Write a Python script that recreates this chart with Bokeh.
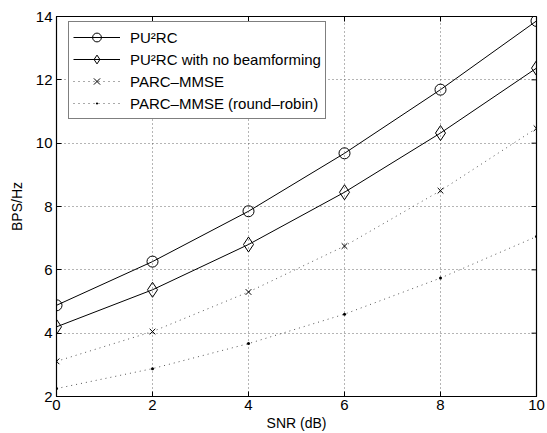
import math
from bokeh.plotting import figure
from bokeh.models import Legend, LegendItem, FixedTicker, Range1d
from bokeh.embed import file_html
from bokeh.resources import INLINE

snr = [0, 2, 4, 6, 8, 10]
pu2rc = [4.88, 6.26, 7.85, 9.68, 11.69, 13.86]
pu2rc_nobf = [4.20, 5.37, 6.80, 8.45, 10.32, 12.37]
parc_mmse = [3.11, 4.05, 5.30, 6.75, 8.50, 10.47]
parc_rr = [2.25, 2.88, 3.67, 4.60, 5.74, 7.05]
xticks = [0, 2, 4, 6, 8, 10]
yticks = [2, 4, 6, 8, 10, 12, 14]

FONT = "Liberation Sans"
XMIN, XMAX, YMIN, YMAX = 0, 10, 2, 14

p = figure(width=547, height=433, output_backend="svg", toolbar_location=None,
           x_range=Range1d(XMIN, XMAX), y_range=Range1d(YMIN, YMAX),
           min_border_left=56, min_border_right=11, min_border_top=16, min_border_bottom=37)
p.outline_line_color = "black"
p.outline_line_width = 1.2
p.background_fill_color = "white"
p.border_fill_color = "white"

for ax in (p.xaxis[0], p.yaxis[0]):
    ax.major_tick_in = 5
    ax.major_tick_out = 0
    ax.minor_tick_in = 0
    ax.minor_tick_out = 0
    ax.axis_line_color = "black"
    ax.major_tick_line_color = "black"
    ax.major_label_text_font = FONT
    ax.major_label_text_font_size = "15px"
    ax.major_label_text_color = "black"
    ax.axis_label_text_font = FONT
    ax.axis_label_text_font_size = "14px"
    ax.axis_label_text_font_style = "normal"
    ax.axis_label_text_color = "black"
p.xaxis[0].ticker = FixedTicker(ticks=xticks)
p.yaxis[0].ticker = FixedTicker(ticks=yticks)
p.xaxis[0].axis_label = "SNR (dB)"
p.yaxis[0].axis_label = "BPS/Hz"
p.xaxis[0].major_label_standoff = 3
p.xaxis[0].axis_label_standoff = 2
p.yaxis[0].major_label_standoff = 4
p.yaxis[0].axis_label_standoff = 8

p.xgrid.ticker = FixedTicker(ticks=xticks)
p.ygrid.ticker = FixedTicker(ticks=yticks)
for g in (p.xgrid[0], p.ygrid[0]):
    g.grid_line_color = "#444444"
    g.grid_line_dash = "1 3"
    g.grid_line_width = 0.8

# inward ticks on the top and right edges (half of each dash is clipped by the frame)
p.scatter([XMAX] * len(yticks), yticks, marker="dash", size=10, line_color="black", line_width=1)
p.scatter(xticks, [YMAX] * len(xticks), marker="dash", size=10, angle=math.pi / 2,
          line_color="black", line_width=1)

l1 = p.line(snr, pu2rc, line_color="black", line_width=1)
m1 = p.scatter(snr, pu2rc, marker="circle", size=11, line_color="black", fill_color=None, line_width=1)
l2 = p.line(snr, pu2rc_nobf, line_color="black", line_width=1)
m2 = p.scatter(snr, pu2rc_nobf, marker="diamond", size=15, line_color="black", fill_color=None, line_width=1)
l3 = p.line(snr, parc_mmse, line_color="#555555", line_width=1, line_dash="1 4")
m3 = p.scatter(snr, parc_mmse, marker="x", size=8, line_color="black", line_width=1)
l4 = p.line(snr, parc_rr, line_color="#555555", line_width=1, line_dash="1 4")
m4 = p.scatter(snr, parc_rr, marker="dot", size=12, line_color="black", fill_color="black")

legend = Legend(items=[
    LegendItem(label="PU\u00b2RC", renderers=[l1, m1]),
    LegendItem(label="PU\u00b2RC with no beamforming", renderers=[l2, m2]),
    LegendItem(label="PARC\u2013MMSE", renderers=[l3, m3]),
    LegendItem(label="PARC\u2013MMSE (round\u2013robin)", renderers=[l4, m4]),
], location=(12, 277))
legend.border_line_color = "black"
legend.border_line_width = 1.2
legend.background_fill_alpha = 1
legend.label_text_font = FONT
legend.label_text_font_size = "15px"
legend.label_text_color = "black"
legend.glyph_width = 47
legend.glyph_height = 22
legend.label_height = 18
legend.label_standoff = 10
legend.spacing = 0
legend.padding = 4
legend.margin = 0
p.add_layout(legend)

open("out.html", "w").write(file_html(p, INLINE))
